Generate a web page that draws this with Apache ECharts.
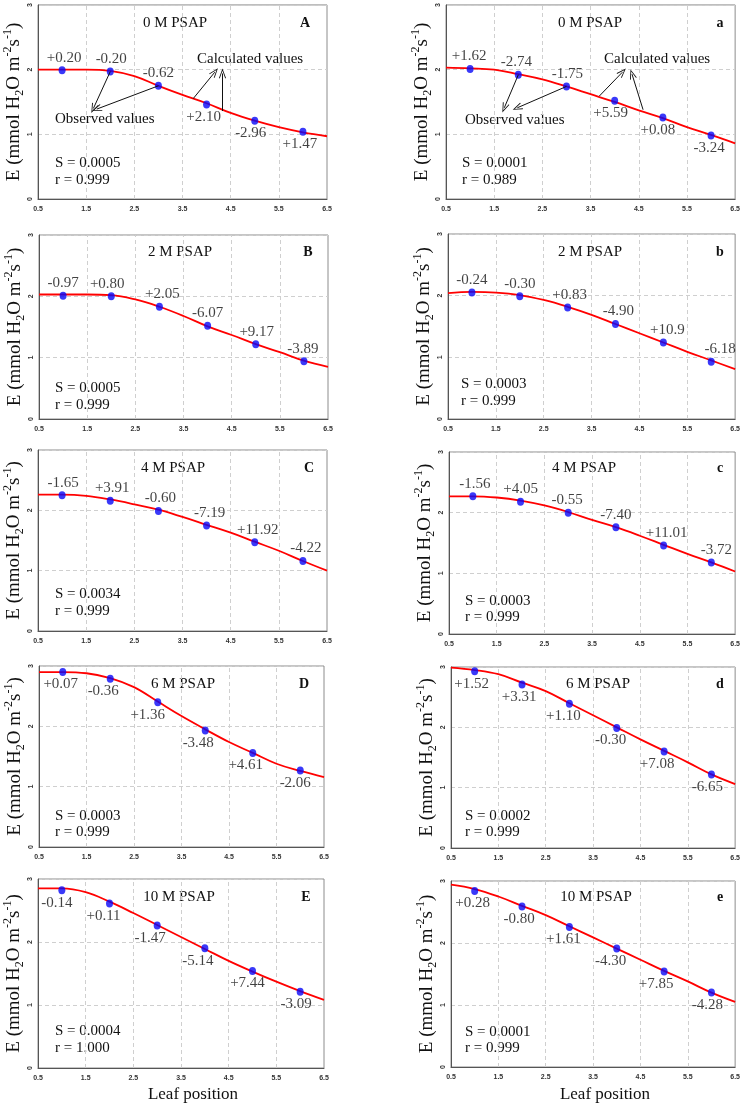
<!DOCTYPE html>
<html><head><meta charset="utf-8">
<script src="https://cdn.jsdelivr.net/npm/echarts@6/dist/echarts.min.js"></script>
<style>html,body{margin:0;padding:0;background:#fff}#c{width:743px;height:1104px}</style>
</head><body><div id="c"></div>
<script>
// ---------- DATA ----------
const leafPos = [1, 2, 3, 4, 5, 6];
const curveX = [0.5, 1, 1.5, 2, 2.5, 3, 3.5, 4, 4.5, 5, 5.5, 6, 6.5];
const xTickValues = [0.5, 1.5, 2.5, 3.5, 4.5, 5.5, 6.5];
const yTickValues = [0, 1, 2, 3];
const psapTitles = ['0 M PSAP', '2 M PSAP', '4 M PSAP', '6 M PSAP', '10 M PSAP'];

const obsA = [1.99, 1.97, 1.75, 1.46, 1.21, 1.04];
const fitA = [2.00, 2.00, 2.00, 1.98, 1.90, 1.75, 1.61, 1.48, 1.33, 1.21, 1.11, 1.03, 0.97];
const devA = ['+0.20', '-0.20', '-0.62', '+2.10', '-2.96', '+1.47'];

const obsa = [2.01, 1.92, 1.74, 1.52, 1.26, 0.98];
const fita = [2.03, 2.02, 2.00, 1.93, 1.85, 1.74, 1.62, 1.50, 1.37, 1.25, 1.11, 0.99, 0.86];
const deva = ['+1.62', '-2.74', '-1.75', '+5.59', '+0.08', '-3.24'];

const obsB = [2.01, 2.00, 1.83, 1.52, 1.22, 0.94];
const fitB = [2.03, 2.03, 2.03, 2.02, 1.95, 1.83, 1.68, 1.51, 1.37, 1.22, 1.09, 0.95, 0.85];
const devB = ['-0.97', '+0.80', '+2.05', '-6.07', '+9.17', '-3.89'];

const obsb = [2.05, 1.99, 1.81, 1.54, 1.24, 0.93];
const fitb = [2.04, 2.06, 2.05, 2.01, 1.93, 1.82, 1.69, 1.54, 1.39, 1.24, 1.09, 0.95, 0.81];
const devb = ['-0.24', '-0.30', '+0.83', '-4.90', '+10.9', '-6.18'];

const obsC = [2.25, 2.16, 1.99, 1.75, 1.47, 1.16];
const fitC = [2.26, 2.26, 2.24, 2.18, 2.10, 2.01, 1.89, 1.76, 1.63, 1.48, 1.33, 1.16, 1.00];
const devC = ['-1.65', '+3.91', '-0.60', '-7.19', '+11.92', '-4.22'];

const obsc = [2.27, 2.18, 2.00, 1.76, 1.46, 1.18];
const fitc = [2.27, 2.27, 2.25, 2.20, 2.12, 2.01, 1.88, 1.76, 1.62, 1.47, 1.32, 1.18, 1.03];
const devc = ['-1.56', '+4.05', '-0.55', '-7.40', '+11.01', '-3.72'];

const obsD = [2.90, 2.79, 2.40, 1.93, 1.56, 1.27];
const fitD = [2.90, 2.90, 2.88, 2.80, 2.65, 2.41, 2.17, 1.95, 1.74, 1.56, 1.38, 1.26, 1.16];
const devD = ['+0.07', '-0.36', '+1.36', '-3.48', '+4.61', '-2.06'];

const obsd = [2.93, 2.71, 2.39, 1.99, 1.60, 1.22];
const fitd = [2.99, 2.95, 2.88, 2.74, 2.60, 2.40, 2.20, 2.00, 1.80, 1.61, 1.42, 1.22, 1.06];
const devd = ['+1.52', '+3.31', '+1.10', '-0.30', '+7.08', '-6.65'];

const obsE = [2.82, 2.61, 2.26, 1.90, 1.54, 1.21];
const fitE = [2.85, 2.85, 2.79, 2.64, 2.46, 2.27, 2.08, 1.89, 1.70, 1.53, 1.37, 1.22, 1.08];
const devE = ['-0.14', '+0.11', '-1.47', '-5.14', '+7.44', '-3.09'];

const obse = [2.84, 2.59, 2.26, 1.91, 1.54, 1.20];
const fite = [2.94, 2.87, 2.75, 2.60, 2.45, 2.27, 2.09, 1.91, 1.73, 1.55, 1.38, 1.20, 1.05];
const deve = ['+0.28', '-0.80', '+1.61', '-4.30', '+7.85', '-4.28'];

const statS = ['0.0005', '0.0001', '0.0005', '0.0003', '0.0034', '0.0003', '0.0003', '0.0002', '0.0004', '0.0001'];
const statR = ['0.999', '0.989', '0.999', '0.999', '0.999', '0.999', '0.999', '0.999', '1.000', '0.999'];
const panelLetters = ['A', 'a', 'B', 'b', 'C', 'c', 'D', 'd', 'E', 'e'];

// arrows (annotation, data coordinates): observed / calculated
const arrowsA = [[[2, 1.97], [1.65, 1.40]], [[3, 1.75], [1.72, 1.39]], [[3.72, 1.55], [4.17, 1.96]], [[4.33, 1.36], [4.33, 1.94]]];
const arrowsa = [[[2, 1.92], [1.71, 1.41]], [[3, 1.74], [1.98, 1.41]], [[3.68, 1.59], [4.16, 1.96]], [[4.59, 1.38], [4.36, 1.93]]];

const obsList = [obsA, obsa, obsB, obsb, obsC, obsc, obsD, obsd, obsE, obse];
const fitList = [fitA, fita, fitB, fitb, fitC, fitc, fitD, fitd, fitE, fite];
const devList = [devA, deva, devB, devb, devC, devc, devD, devd, devE, deve];

// ---------- LAYOUT ----------
const layout = [
  {g: [38, 3, 289, 196], t: [175, 23], l: [305, 23], s: [55, 163, 180], pos: 'tttbbb', dx: [2, 1, 0, -3, -4, -3]},
  {g: [446, 3, 292, 196], t: [590, 23], l: [720, 23], s: [462, 163, 180], pos: 'tttbbb', dx: [-1, -2, 1, -4, -5, -2]},
  {g: [39, 235, 289, 184], t: [180, 252], l: [308, 252], s: [55, 388, 405], pos: 'tttttt', dx: [0, -4, 3, 0, 1, -1]},
  {g: [448, 234, 290, 185], t: [590, 252], l: [720, 252], s: [461, 384, 401], pos: 'tttttt', dx: [0, 0, 2, 3, 4, 9]},
  {g: [38, 450, 289, 181], t: [173, 468], l: [309, 468], s: [55, 594, 611], pos: 'tttttt', dx: [1, 2, 2, 3, 3, 3]},
  {g: [449, 452, 289, 182], t: [584, 468], l: [720, 468], s: [465, 601, 617], pos: 'tttttt', dx: [2, 0, -1, 0, 3, 5]},
  {g: [39, 666, 285, 181], t: [183, 684], l: [304, 684], s: [55, 816, 832], pos: 'bbbbbb', dx: [-2, -7, -10, -7, -7, -5]},
  {g: [451, 667, 287, 181], t: [598, 684], l: [720, 684], s: [465, 816, 832], pos: 'bbbbbb', dx: [-3, -3, -6, -6, -7, -4]},
  {g: [38, 879, 286, 189], t: [179, 897], l: [306, 897], s: [55, 1031, 1048], pos: 'bbbbbb', dx: [-5, -6, -7, -7, -5, -4]},
  {g: [451, 881, 287, 186], t: [596, 897], l: [720, 897], s: [465, 1032, 1048], pos: 'bbbbbb', dx: [-2, -3, -6, -6, -8, -4]}
];
const arrowLayout = {0: arrowsA, 1: arrowsa};
const obsTextPos = {0: [[55, 119], [197, 59]], 1: [[465, 120], [604, 59]]};

const SERIF = '"Liberation Serif", "Times New Roman", serif';
const SANS = '"Liberation Sans", Arial, sans-serif';
const INK = '#111111';
const yName = '{n|E (mmol H}{sub|2}{n|O m}{sup|-2}{n|s}{sup|-1}{n|)}';
const arrowPath = 'path://M5,0 L10,10 L8.9,10.6 L5,2.4 L1.1,10.6 L0,10 Z';

const grids = [], xAxes = [], yAxes = [], series = [], graphics = [];
const txt = (text, x, y, size, align, weight) => ({
  type: 'text', silent: true,
  style: {text, x, y, font: (weight || 'normal') + ' ' + size + 'px ' + SERIF, fill: INK,
          align: align, verticalAlign: 'middle', textAlign: align, textVerticalAlign: 'middle'}
});

layout.forEach((L, i) => {
  grids.push({left: L.g[0], top: L.g[1], width: L.g[2], height: L.g[3], show: true,
              borderColor: '#8c8c8c', borderWidth: 1, backgroundColor: 'transparent'});
  xAxes.push({type: 'value', gridIndex: i, min: 0.5, max: 6.5, interval: 0.5,
    axisLine: {show: true, onZero: false, lineStyle: {color: '#555', width: 1}},
    axisTick: {show: false}, splitLine: {show: false},
    axisLabel: {fontSize: 7, fontWeight: 'bold', fontFamily: SANS, color: '#333', margin: 7,
      showMinLabel: true, showMaxLabel: true,
      formatter: v => xTickValues.some(t => Math.abs(t - v) < 1e-6) ? v.toFixed(1) : ''}
  });
  yAxes.push({type: 'value', gridIndex: i, min: yTickValues[0], max: yTickValues[yTickValues.length - 1], interval: 1,
    axisLine: {show: true, lineStyle: {color: '#555', width: 1}},
    axisTick: {show: false},
    splitLine: {show: true, lineStyle: {type: [4, 3], color: '#cfcfcf', width: 1}},
    axisLabel: {fontSize: 7, fontWeight: 'bold', fontFamily: SANS, color: '#333', margin: 4, rotate: 90},
    name: yName, nameLocation: 'middle', nameRotate: 90, nameGap: 12,
    nameTextStyle: {rich: {
      n: {fontFamily: SERIF, fontSize: 19, lineHeight: 24, color: INK},
      sub: {fontFamily: SERIF, fontSize: 12, lineHeight: 12, verticalAlign: 'bottom', color: INK},
      sup: {fontFamily: SERIF, fontSize: 12, lineHeight: 12, verticalAlign: 'top', color: INK}
    }}
  });
  const fit = fitList[i], obs = obsList[i], dev = devList[i];
  series.push({type: 'line', xAxisIndex: i, yAxisIndex: i, z: 3, silent: true,
    data: curveX.map((x, k) => [x, fit[k]]), smooth: 0.4, showSymbol: false,
    lineStyle: {color: '#ff0000', width: 1.8},
    markLine: {silent: true, z: 1, symbol: 'none', animation: false, label: {show: false},
      lineStyle: {type: [4, 3], color: '#cfcfcf', width: 1},
      data: xTickValues.slice(1, -1).map(v => ({xAxis: v}))}
  });
  const sc = {type: 'scatter', xAxisIndex: i, yAxisIndex: i, z: 4, silent: true,
    symbolSize: [7, 8], itemStyle: {color: '#0808f8', borderWidth: 0},
    data: leafPos.map((x, k) => ({value: [x, obs[k]],
      label: {position: L.pos[k] === 't' ? 'top' : 'bottom', offset: [L.dx[k], 0]}})),
    label: {show: true, formatter: p => dev[p.dataIndex], fontFamily: SERIF, fontSize: 15,
            lineHeight: 15, color: INK, distance: 1, textBorderWidth: 0}
  };
  if (arrowLayout[i]) {
    sc.markLine = {silent: true, animation: false, symbol: ['none', arrowPath], symbolSize: [7, 10],
      label: {show: false}, lineStyle: {type: 'solid', color: '#111', width: 1},
      data: arrowLayout[i].map(a => [{coord: a[0]}, {coord: a[1]}])};
    graphics.push(txt('Observed values', obsTextPos[i][0][0], obsTextPos[i][0][1], 15, 'left'));
    graphics.push(txt('Calculated values', obsTextPos[i][1][0], obsTextPos[i][1][1], 15, 'left'));
  }
  series.push(sc);
  graphics.push(txt(psapTitles[Math.floor(i / 2)], L.t[0], L.t[1], 15, 'center'));
  graphics.push(txt(panelLetters[i], L.l[0], L.l[1], 14, 'center', 'bold'));
  graphics.push(txt('S = ' + statS[i], L.s[0], L.s[1], 15, 'left'));
  graphics.push(txt('r = ' + statR[i], L.s[0], L.s[2], 15, 'left'));
});
graphics.push(txt('Leaf position', 193, 1095, 17, 'center'));
graphics.push(txt('Leaf position', 605, 1095, 17, 'center'));

const chart = echarts.init(document.getElementById('c'), null, {renderer: 'canvas'});
chart.setOption({
  animation: false,
  backgroundColor: '#ffffff',
  grid: grids, xAxis: xAxes, yAxis: yAxes, series: series,
  graphic: {elements: graphics}
});
</script></body></html>
